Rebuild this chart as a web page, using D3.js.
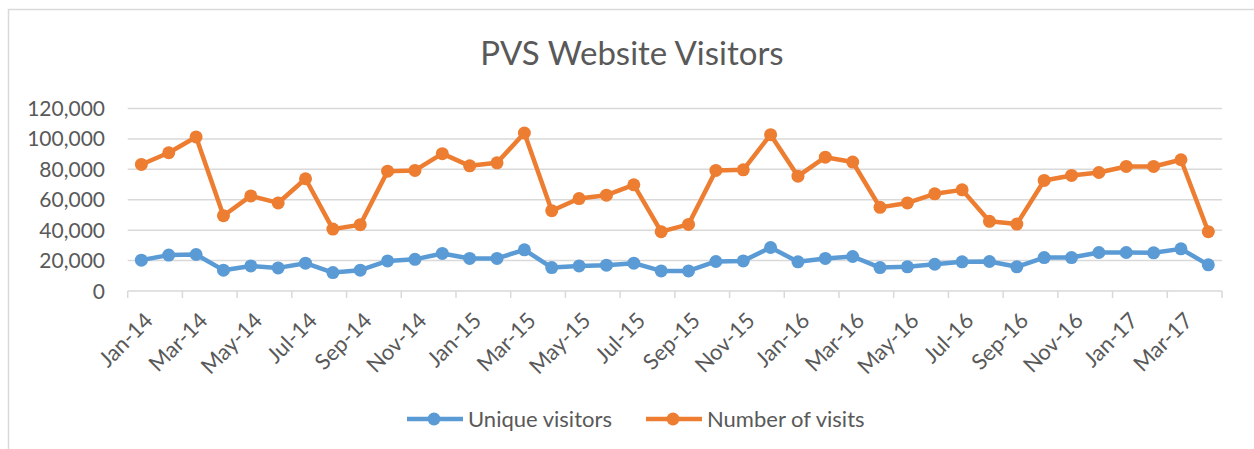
<!DOCTYPE html>
<html>
<head>
<meta charset="utf-8">
<script src="https://cdn.jsdelivr.net/npm/d3@7"></script>
<style>
  body { margin: 0; background: #fff; }
  text { font-family: Lato, "Open Sans", sans-serif; fill: #595959; }
</style>
</head>
<body>
<div class="chart"></div>
<script>
var months = ["Jan-14","Feb-14","Mar-14","Apr-14","May-14","Jun-14","Jul-14","Aug-14","Sep-14","Oct-14","Nov-14","Dec-14",
              "Jan-15","Feb-15","Mar-15","Apr-15","May-15","Jun-15","Jul-15","Aug-15","Sep-15","Oct-15","Nov-15","Dec-15",
              "Jan-16","Feb-16","Mar-16","Apr-16","May-16","Jun-16","Jul-16","Aug-16","Sep-16","Oct-16","Nov-16","Dec-16",
              "Jan-17","Feb-17","Mar-17","Apr-17"];

var uniqueVisitors = [20300,23600,24000,13700,16500,15200,18300,12100,13700,19800,20800,24700,
                      21400,21400,27100,15400,16500,17000,18300,13200,13200,19400,19800,28600,
                      19200,21400,22700,15400,15900,17600,19200,19400,15900,22000,22000,25300,
                      25300,25100,27700,17200];

var numberOfVisits = [83200,90900,101300,49500,62500,57900,73800,40700,43600,78800,79300,90300,
                      82300,84300,103900,52800,60800,63000,69800,39000,43800,79300,79700,102800,
                      75500,88000,84800,55000,57900,63900,66500,45800,44000,72700,76000,77900,
                      81900,81900,86300,39000];

var yTicks = [0,20000,40000,60000,80000,100000,120000];

var series = [
  {name: "Unique visitors", values: uniqueVisitors, color: "#5b9bd5"},
  {name: "Number of visits", values: numberOfVisits, color: "#ed7d31"}
];

var W = 1254, H = 449;
var plotLeft = 127.7, plotRight = 1222, plotTop = 108.5, plotBottom = 291;

var svg = d3.select(".chart").append("svg")
  .attr("width", W)
  .attr("height", H);

// chart border
svg.append("rect")
  .attr("x", 8.5).attr("y", 9.5)
  .attr("width", 1270).attr("height", 470)
  .attr("fill", "none")
  .attr("stroke", "#d9d9d9")
  .attr("stroke-width", 1.5);

svg.append("text")
  .attr("x", 632).attr("y", 65)
  .attr("text-anchor", "middle")
  .style("font-size", "33px")
  .text("PVS Website Visitors");

var x = d3.scaleBand().domain(months).range([plotLeft, plotRight]).padding(0);
var y = d3.scaleLinear().domain([0, 120000]).range([plotBottom, plotTop]);

var fmt = d3.format(",");

// gridlines
svg.append("g").selectAll("line")
  .data(yTicks.slice(1))
  .enter().append("line")
  .attr("x1", plotLeft).attr("x2", plotRight)
  .attr("y1", function(d) { return y(d); })
  .attr("y2", function(d) { return y(d); })
  .attr("stroke", "#d9d9d9")
  .attr("stroke-width", 1.5);

svg.append("g").selectAll("text")
  .data(yTicks)
  .enter().append("text")
  .attr("x", 105)
  .attr("y", function(d) { return y(d); })
  .attr("dy", "0.36em")
  .attr("text-anchor", "end")
  .style("font-size", "21px")
  .text(function(d) { return fmt(d); });

// x axis line and ticks
svg.append("line")
  .attr("x1", plotLeft).attr("x2", plotRight)
  .attr("y1", plotBottom).attr("y2", plotBottom)
  .attr("stroke", "#d9d9d9")
  .attr("stroke-width", 1.5);

var tickMonths = months.filter(function(d, i) { return i % 2 === 0; });
var tickX = tickMonths.map(function(d) { return x(d); }).concat([plotRight]);

svg.append("g").selectAll("line")
  .data(tickX)
  .enter().append("line")
  .attr("x1", function(d) { return d; })
  .attr("x2", function(d) { return d; })
  .attr("y1", plotBottom).attr("y2", plotBottom + 7)
  .attr("stroke", "#d9d9d9")
  .attr("stroke-width", 1.5);

svg.append("g").selectAll("text")
  .data(tickMonths)
  .enter().append("text")
  .attr("transform", function(d) {
    return "translate(" + (x(d) + x.bandwidth() / 2 + 13) + "," + 322 + ") rotate(-45)";
  })
  .attr("text-anchor", "end")
  .style("font-size", "22px")
  .text(function(d) { return d; });

var line = d3.line()
  .x(function(d, i) { return x(months[i]) + x.bandwidth() / 2; })
  .y(function(d) { return y(d); });

series.forEach(function(s) {
  svg.append("path")
    .datum(s.values)
    .attr("d", line)
    .attr("fill", "none")
    .attr("stroke", s.color)
    .attr("stroke-width", 4.5)
    .attr("stroke-linejoin", "round");

  svg.append("g").selectAll("circle")
    .data(s.values)
    .enter().append("circle")
    .attr("cx", function(d, i) { return x(months[i]) + x.bandwidth() / 2; })
    .attr("cy", function(d) { return y(d); })
    .attr("r", 6.5)
    .attr("fill", s.color);
});

// legend
var legendX = [407, 646];
var legend = svg.append("g").selectAll("g")
  .data(series)
  .enter().append("g")
  .attr("transform", function(d, i) { return "translate(" + legendX[i] + ",419)"; });

legend.append("line")
  .attr("x1", 0).attr("x2", 56)
  .attr("y1", 0).attr("y2", 0)
  .attr("stroke", function(d) { return d.color; })
  .attr("stroke-width", 4.5);

legend.append("circle")
  .attr("cx", 27).attr("cy", 0).attr("r", 6.5)
  .attr("fill", function(d) { return d.color; });

legend.append("text")
  .attr("x", 61).attr("y", 0)
  .attr("dy", "0.36em")
  .style("font-size", "22px")
  .text(function(d) { return d.name; });
</script>
</body>
</html>
